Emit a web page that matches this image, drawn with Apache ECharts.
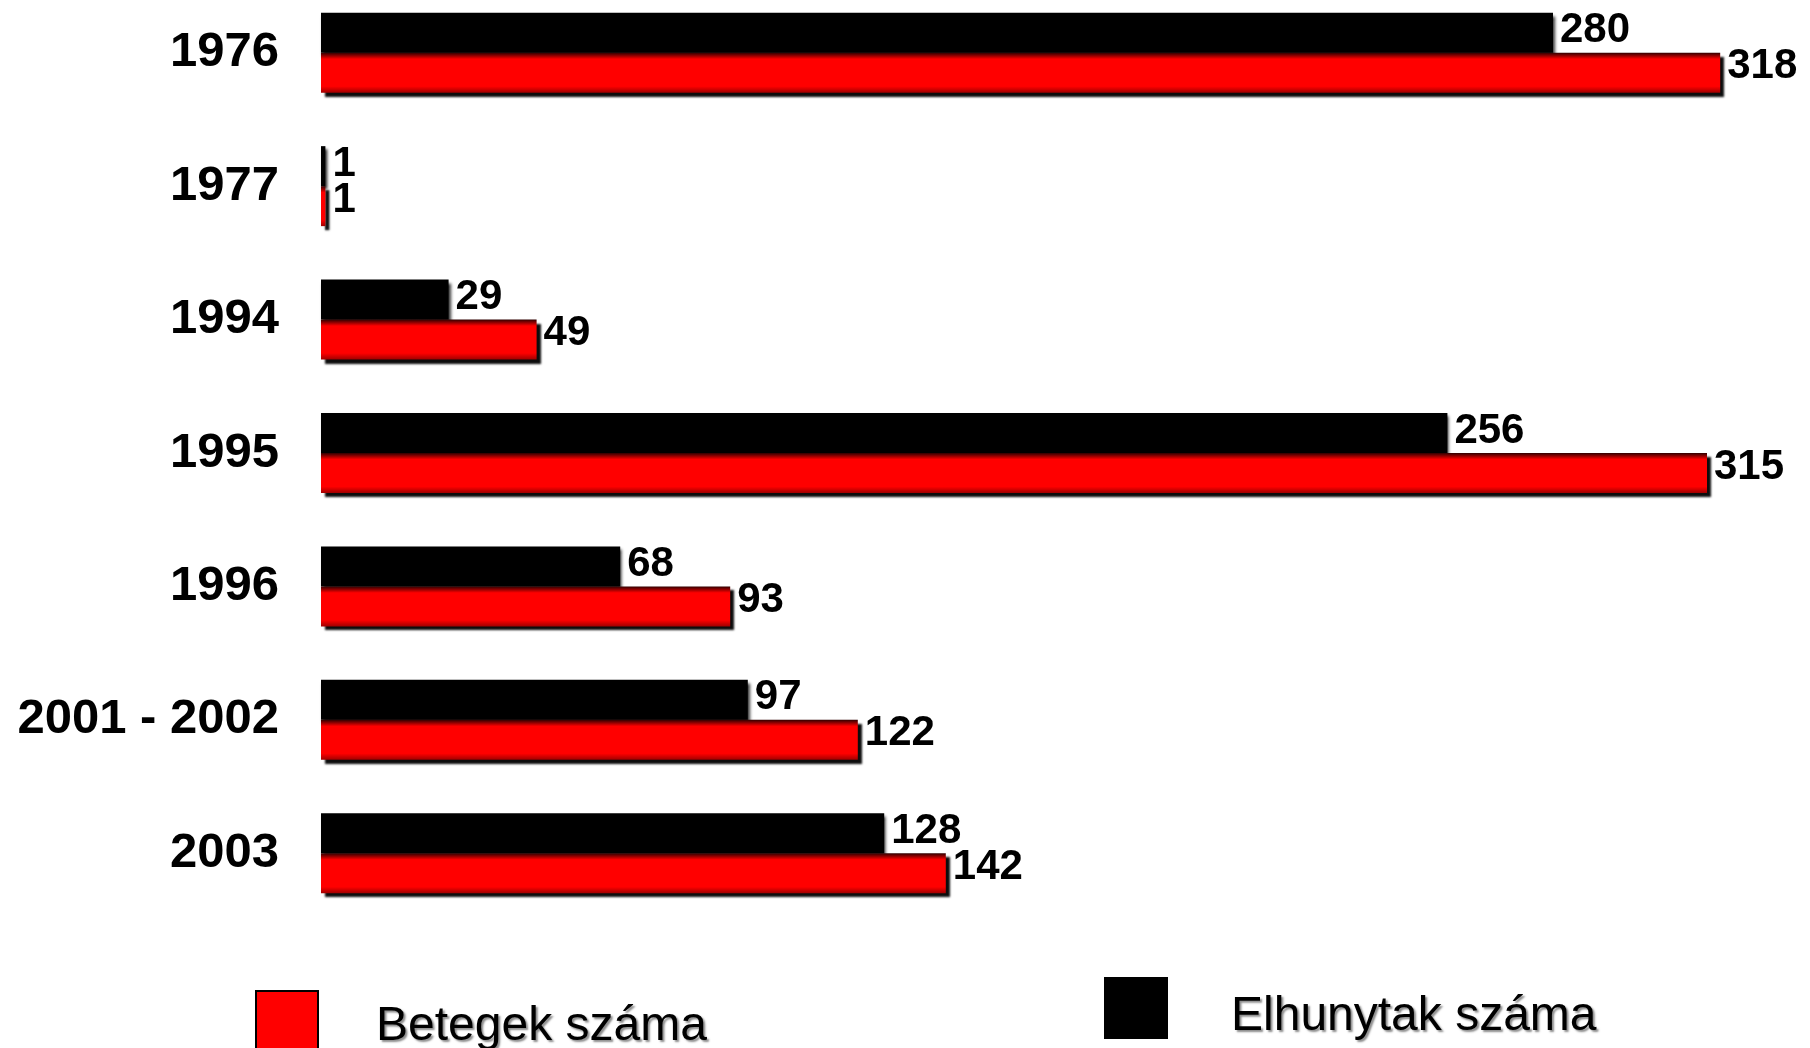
<!DOCTYPE html>
<html>
<head>
<meta charset="utf-8">
<script src="https://cdn.jsdelivr.net/npm/echarts@6/dist/echarts.min.js"></script>
<style>
html,body{margin:0;padding:0;background:#fff;}
#chart{width:1810px;height:1048px;}
</style>
</head>
<body>
<div id="chart"></div>
<script>
const categories = ['1976', '1977', '1994', '1995', '1996', '2001 - 2002', '2003'];
const elhunytak = [280, 1, 29, 256, 68, 97, 128];   // black
const betegek = [318, 1, 49, 315, 93, 122, 142];    // red
const seriesNames = ['Elhunytak száma', 'Betegek száma'];

const FONT = '"Liberation Sans", Arial, sans-serif';
const chart = echarts.init(document.getElementById('chart'), null, {renderer: 'canvas'});

const valueLabel = (dy) => ({
  show: true,
  position: 'right',
  distance: 7,
  offset: [0, dy],
  color: '#000',
  fontFamily: FONT,
  fontWeight: 'bold',
  fontSize: 42
});

const legendText = (padTop, padLeft) => ({
  fontFamily: FONT, fontSize: 48, color: '#000',
  rich: {
    t: {
      fontFamily: FONT, fontSize: 48, color: '#000',
      padding: [padTop, 0, 0, padLeft],
      textShadowColor: 'rgba(0,0,0,0.45)', textShadowBlur: 2, textShadowOffsetX: 2, textShadowOffsetY: 2
    }
  }
});

chart.setOption({
  backgroundColor: '#fff',
  animation: false,
  grid: {left: 321, right: 37, top: -14, bottom: 128, containLabel: false, outerBoundsMode: 'none'},
  xAxis: {
    type: 'value', min: 0, max: 330,
    show: false
  },
  yAxis: {
    type: 'category',
    data: categories,
    inverse: true,
    axisLine: {show: false},
    axisTick: {show: false},
    splitLine: {show: false},
    axisLabel: {
      margin: 42,
      color: '#000',
      fontFamily: FONT,
      fontWeight: 'bold',
      fontSize: 49
    }
  },
  legend: [
    {
      data: [{name: seriesNames[1], itemStyle: {color: '#ff0000', borderColor: '#000', borderWidth: 2, shadowBlur: 0, shadowOffsetX: 0, shadowOffsetY: 0}}],
      left: 250, top: 985,
      itemWidth: 62, itemHeight: 64,
      icon: 'rect',
      selectedMode: false,
      formatter: (n) => '{t|' + n + '}',
      textStyle: legendText(8, 53)
    },
    {
      data: [{name: seriesNames[0], itemStyle: {color: '#000', shadowBlur: 0, shadowOffsetX: 0, shadowOffsetY: 0}}],
      left: 1099, top: 972,
      itemWidth: 64, itemHeight: 62,
      icon: 'rect',
      selectedMode: false,
      formatter: (n) => '{t|' + n + '}',
      textStyle: legendText(18, 58)
    }
  ],
  series: [
    {
      name: seriesNames[0],
      type: 'bar',
      data: elhunytak,
      barWidth: 40,
      barGap: '0%',
      itemStyle: {
        color: '#000',
        shadowColor: 'rgba(0,0,0,0.8)', shadowBlur: 3, shadowOffsetX: 2, shadowOffsetY: 3
      },
      label: valueLabel(-2),
      z: 2
    },
    {
      name: seriesNames[1],
      type: 'bar',
      data: betegek,
      barWidth: 40,
      barGap: '0%',
      itemStyle: {
        color: new echarts.graphic.LinearGradient(0, 0, 0, 1, [
          {offset: 0, color: '#300000'},
          {offset: 0.16, color: '#ff0000'},
          {offset: 0.84, color: '#ff0000'},
          {offset: 1, color: '#a00000'}
        ]),
        shadowColor: 'rgba(0,0,0,0.95)', shadowBlur: 2, shadowOffsetX: 4, shadowOffsetY: 4
      },
      label: valueLabel(-6),
      z: 3
    }
  ]
});
</script>
</body>
</html>
